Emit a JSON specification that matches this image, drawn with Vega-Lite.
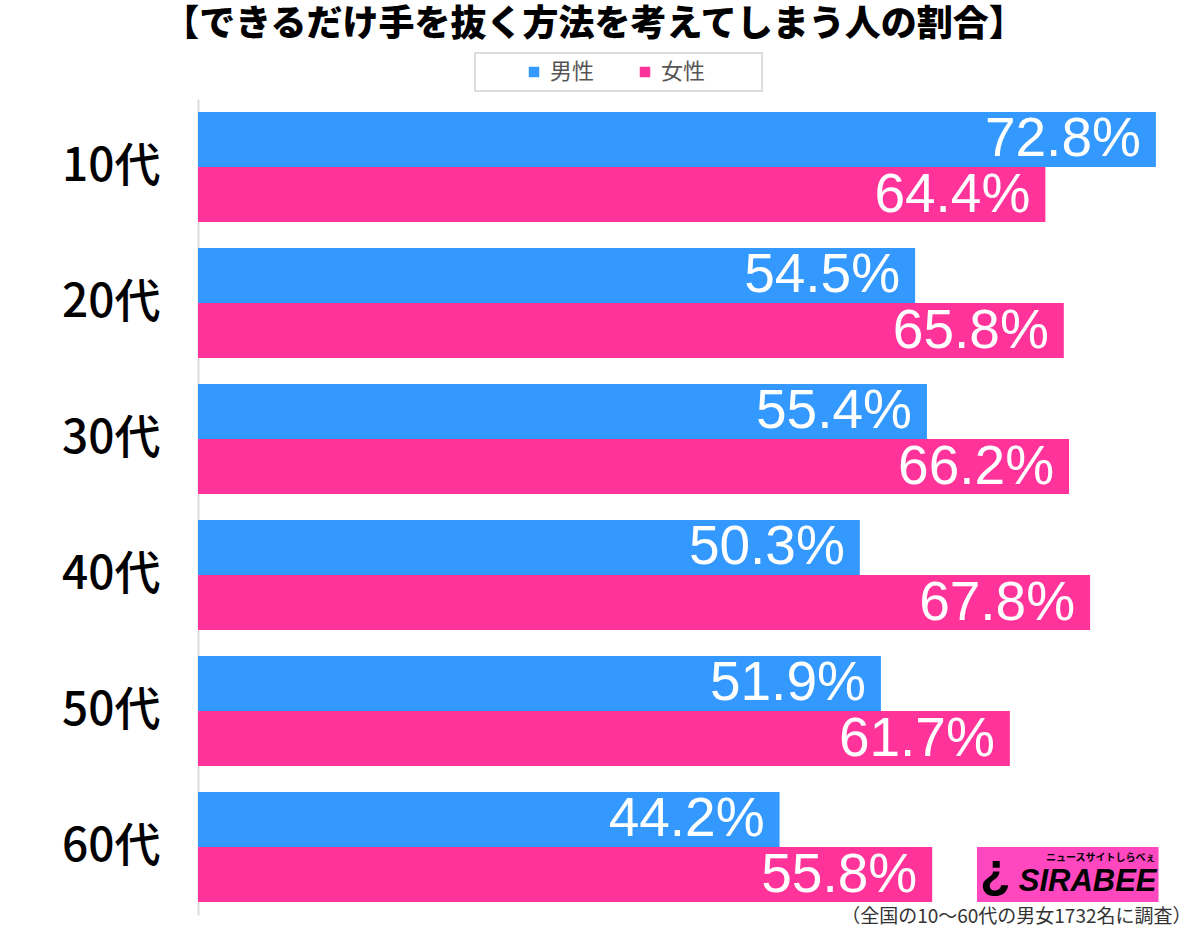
{
  "$schema": "https://vega.github.io/schema/vega-lite/v6.json",
  "autosize": {"type": "none"},
  "padding": {"left": 198, "top": 99, "right": 2, "bottom": 13},
  "width": 1000,
  "height": 816,
  "background": "#ffffff",
  "view": {"stroke": null},
  "title": {
    "text": "【できるだけ手を抜く方法を考えてしまう人の割合】",
    "anchor": "middle",
    "frame": "group",
    "dx": -104,
    "offset": 8,
    "font": "Noto Sans CJK JP",
    "fontSize": 36,
    "fontWeight": 900,
    "color": "#000000"
  },
  "encoding": {
    "y": {
      "field": "age",
      "type": "nominal",
      "sort": ["10代", "20代", "30代", "40代", "50代", "60代"],
      "scale": {"paddingInner": 0.19, "paddingOuter": 0.095},
      "axis": {
        "title": null,
        "ticks": false,
        "labelFont": "Noto Sans CJK JP",
        "labelFontSize": 46,
        "labelFontWeight": 500,
        "labelColor": "#000000",
        "labelPadding": 38,
        "domainColor": "#dddddd",
        "domainWidth": 2
      }
    },
    "yOffset": {
      "field": "sex",
      "type": "nominal",
      "sort": ["男性", "女性"],
      "scale": {"paddingInner": 0, "paddingOuter": 0}
    }
  },
  "layer": [
    {
      "data": {
        "name": "main",
        "values": [
          {"age": "10代", "sex": "男性", "value": 72.8},
          {"age": "10代", "sex": "女性", "value": 64.4},
          {"age": "20代", "sex": "男性", "value": 54.5},
          {"age": "20代", "sex": "女性", "value": 65.8},
          {"age": "30代", "sex": "男性", "value": 55.4},
          {"age": "30代", "sex": "女性", "value": 66.2},
          {"age": "40代", "sex": "男性", "value": 50.3},
          {"age": "40代", "sex": "女性", "value": 67.8},
          {"age": "50代", "sex": "男性", "value": 51.9},
          {"age": "50代", "sex": "女性", "value": 61.7},
          {"age": "60代", "sex": "男性", "value": 44.2},
          {"age": "60代", "sex": "女性", "value": 55.8}
        ]
      },
      "transform": [
        {"calculate": "format(datum.value, '.1f') + '%'", "as": "label"}
      ],
      "encoding": {
        "x": {
          "field": "value",
          "type": "quantitative",
          "scale": {"domain": [0, 76], "nice": false},
          "axis": {
            "title": "（全国の10〜60代の男女1732名に調査）",
            "titleFont": "Noto Sans CJK JP",
            "titleFontSize": 19,
            "titleFontWeight": "normal",
            "titleColor": "#333333",
            "titleAnchor": "end",
            "titleAlign": "right",
            "titleBaseline": "bottom",
            "titleX": 993,
            "titleY": 11,
            "labels": false,
            "ticks": false,
            "domain": false,
            "grid": false
          }
        }
      },
      "layer": [
        {
          "mark": {"type": "bar"},
          "encoding": {
            "color": {
              "field": "sex",
              "type": "nominal",
              "scale": {"domain": ["男性", "女性"], "range": ["#3399ff", "#ff3399"]},
              "legend": {
                "title": " ",
                "titleOrient": "left",
                "titlePadding": 40,
                "orient": "none",
                "legendX": 277,
                "legendY": -46,
                "direction": "horizontal",
                "symbolType": "square",
                "symbolSize": 110,
                "symbolStrokeWidth": 0,
                "labelFont": "Noto Sans CJK JP",
                "labelFontSize": 22,
                "labelColor": "#555555",
                "labelOffset": 5,
                "columnPadding": 39,
                "padding": 8,
                "strokeColor": "#dddddd",
                "labelExpr": "datum.label == '女性' ? '女性⠀⠀⠀' : datum.label",
                "encode": {"legend": {"update": {"strokeWidth": {"value": 2}}}}
              }
            }
          }
        },
        {
          "mark": {
            "type": "text",
            "align": "right",
            "baseline": "middle",
            "dx": -15,
            "font": "Liberation Sans",
            "fontSize": 55,
            "color": "#ffffff"
          },
          "encoding": {
            "text": {"field": "label", "type": "nominal"}
          }
        }
      ]
    },
    {
      "data": {"values": [{"age": "60代", "sex": "女性"}]},
      "mark": {"type": "bar", "color": "#ff47c0"},
      "encoding": {
        "x": {"datum": 59.2, "type": "quantitative"},
        "x2": {"datum": 73.0}
      }
    },
    {
      "data": {"values": [{"age": "60代", "sex": "女性", "logo": "SIRABEE"}]},
      "mark": {"type": "text", "align": "right", "baseline": "middle", "dx": -2, "dy": 7, "font": "Liberation Sans", "fontStyle": "italic", "fontWeight": "bold", "fontSize": 31, "color": "#000000"},
      "encoding": {
        "x": {"datum": 73.0, "type": "quantitative"},
        "text": {"field": "logo", "type": "nominal"}
      }
    },
    {
      "data": {"values": [{"age": "60代", "sex": "女性", "sub": "ニュースサイトしらべぇ"}]},
      "mark": {"type": "text", "align": "right", "baseline": "middle", "dx": -3, "dy": -17, "font": "Noto Sans CJK JP", "fontWeight": "bold", "fontSize": 10, "color": "#000000"},
      "encoding": {
        "x": {"datum": 73.0, "type": "quantitative"},
        "text": {"field": "sub", "type": "nominal"}
      }
    },
    {
      "data": {"values": [{"age": "60代", "sex": "女性", "glyph": "¿"}]},
      "mark": {"type": "text", "align": "left", "baseline": "middle", "dx": 3, "dy": -2, "font": "Liberation Sans", "fontWeight": "bold", "fontSize": 50, "color": "#000000"},
      "encoding": {
        "x": {"datum": 59.2, "type": "quantitative"},
        "text": {"field": "glyph", "type": "nominal"}
      }
    }
  ]
}
